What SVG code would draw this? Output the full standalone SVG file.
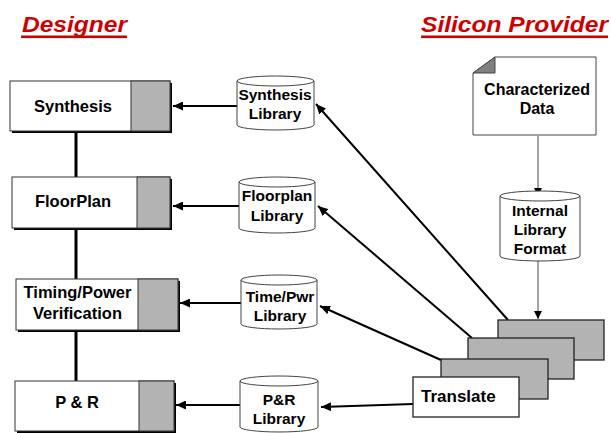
<svg xmlns="http://www.w3.org/2000/svg" width="611" height="433" viewBox="0 0 611 433">
<defs>
<style>
.title{font-family:"Liberation Sans",Arial,sans-serif;font-weight:bold;font-style:italic;font-size:21.5px;fill:#cc0000}
.lbl{font-family:"Liberation Sans",Arial,sans-serif;font-weight:bold;font-size:16.5px;text-anchor:middle;fill:#000}
.clbl{font-family:"Liberation Sans",Arial,sans-serif;font-weight:bold;font-size:15.5px;text-anchor:middle;fill:#000}
.box{fill:#fff;stroke:#333;stroke-width:1}
.tab{fill:#b3b3b3;stroke:#333;stroke-width:1}
.shadow{fill:#000}
.cyl{fill:#fff;stroke:#444;stroke-width:1}
.stack{fill:#b3b3b3;stroke:#222;stroke-width:1.3}
.thick{stroke:#000;stroke-width:2;fill:none}
.vline{stroke:#000;stroke-width:3;fill:none}
.thin{stroke:#444;stroke-width:1;fill:none}
</style>
<marker id="ah" markerUnits="userSpaceOnUse" markerWidth="10" markerHeight="9" refX="10" refY="4.5" orient="auto">
<path d="M0,0 L10,4.5 L0,9 z" fill="#000"/>
</marker>
<marker id="ahs" markerUnits="userSpaceOnUse" markerWidth="8" markerHeight="8" refX="8" refY="4" orient="auto">
<path d="M0,0 L8,4 L0,8 z" fill="#000"/>
</marker>
</defs>

<g id="titles">
<text class="title" x="22" y="31.5" textLength="105" lengthAdjust="spacingAndGlyphs">Designer</text>
<rect x="21" y="35.5" width="106" height="2.6" fill="#cc0000"/>
<text class="title" x="421" y="31.5" textLength="187" lengthAdjust="spacingAndGlyphs">Silicon Provider</text>
<rect x="421" y="35.5" width="187" height="2.6" fill="#cc0000"/>
</g>

<g id="connectors">
<line class="vline" x1="76" y1="133" x2="76" y2="177"/>
<line class="vline" x1="76" y1="230" x2="76" y2="279"/>
<line class="vline" x1="76" y1="332" x2="76" y2="381"/>
<line class="thick" x1="237" y1="106" x2="173" y2="106" marker-end="url(#ah)"/>
<line class="thick" x1="239" y1="206" x2="173" y2="206" marker-end="url(#ah)"/>
<line class="thick" x1="241" y1="303" x2="180" y2="303" marker-end="url(#ah)"/>
<line class="thick" x1="240" y1="405" x2="176" y2="405" marker-end="url(#ah)"/>
<line class="thick" x1="508" y1="320" x2="316" y2="104" marker-end="url(#ah)"/>
<line class="thick" x1="472" y1="338" x2="318" y2="206" marker-end="url(#ah)"/>
<line class="thick" x1="441" y1="360" x2="320" y2="306" marker-end="url(#ah)"/>
<line class="thick" x1="413" y1="404" x2="321" y2="407" marker-end="url(#ah)"/>
<line class="thin" x1="538" y1="136" x2="538" y2="196" marker-end="url(#ahs)"/>
<line class="thin" x1="538" y1="261" x2="538" y2="319" marker-end="url(#ahs)"/>
</g>

<g id="synthesis">
<rect class="shadow" x="12" y="83" width="160" height="50"/>
<rect class="box" x="10" y="81" width="160" height="50"/>
<rect class="tab" x="131" y="81" width="39" height="50"/>
<text class="lbl" x="73" y="112">Synthesis</text>
</g>

<g id="floorplan">
<rect class="shadow" x="14" y="179" width="158" height="51"/>
<rect class="box" x="12" y="177" width="158" height="51"/>
<rect class="tab" x="137" y="177" width="33" height="51"/>
<text class="lbl" x="73" y="207">FloorPlan</text>
</g>

<g id="timing">
<rect class="shadow" x="18" y="281" width="162" height="51"/>
<rect class="box" x="16" y="279" width="162" height="51"/>
<rect class="tab" x="138" y="279" width="40" height="51"/>
<text class="lbl" x="77.5" y="298">Timing/Power</text>
<text class="lbl" x="77.5" y="318.5">Verification</text>
</g>

<g id="pr">
<rect class="shadow" x="17" y="383" width="159" height="50"/>
<rect class="box" x="15" y="381" width="159" height="50"/>
<rect class="tab" x="139" y="381" width="35" height="50"/>
<text class="lbl" x="77" y="408">P &amp; R</text>
</g>

<g id="synthesis-library">
<path class="cyl" d="M237,81 a38.5,5 0 0 1 77,0 v44 a38.5,5 0 0 1 -77,0 z M237,81 a38.5,5 0 0 0 77,0"/>
<text class="clbl" x="275" y="100">Synthesis</text>
<text class="clbl" x="275" y="119">Library</text>
</g>

<g id="floorplan-library">
<path class="cyl" d="M239,182 a38,5 0 0 1 76,0 v46 a38,5 0 0 1 -76,0 z M239,182 a38,5 0 0 0 76,0"/>
<text class="clbl" x="277" y="201">Floorplan</text>
<text class="clbl" x="277" y="221">Library</text>
</g>

<g id="timepwr-library">
<path class="cyl" d="M241,280 a38,5 0 0 1 76,0 v44 a38,5 0 0 1 -76,0 z M241,280 a38,5 0 0 0 76,0"/>
<text class="clbl" x="280" y="302">Time/Pwr</text>
<text class="clbl" x="280" y="320.5">Library</text>
</g>

<g id="pr-library">
<path class="cyl" d="M240,381 a39,5 0 0 1 78,0 v46 a39,5 0 0 1 -78,0 z M240,381 a39,5 0 0 0 78,0"/>
<text class="clbl" x="279" y="405">P&amp;R</text>
<text class="clbl" x="279" y="423.5">Library</text>
</g>

<g id="characterized-data">
<path class="cyl" d="M495,57 H596 V135 H473 V73 z"/>
<path d="M495,57 L473,73 L495,73 z" fill="#808080" stroke="#444" stroke-width="1"/>
<text class="lbl" x="537" y="95" style="font-size:16px">Characterized</text>
<text class="lbl" x="537" y="114" style="font-size:16px">Data</text>
</g>

<g id="internal-library">
<path class="cyl" d="M500,196 a40,5 0 0 1 80,0 v60 a40,5 0 0 1 -80,0 z M500,196 a40,5 0 0 0 80,0"/>
<text class="clbl" x="540" y="216">Internal</text>
<text class="clbl" x="540" y="235">Library</text>
<text class="clbl" x="540" y="254">Format</text>
</g>

<g id="translate">
<rect class="stack" x="498" y="320" width="106" height="40"/>
<rect class="stack" x="468" y="338" width="106" height="41"/>
<rect class="stack" x="441" y="359" width="107" height="40"/>
<rect class="box" x="413" y="377" width="106" height="40" style="stroke:#222;stroke-width:1.3"/>
<text class="lbl" x="421" y="402" style="text-anchor:start;font-size:17px">Translate</text>
</g>
</svg>
